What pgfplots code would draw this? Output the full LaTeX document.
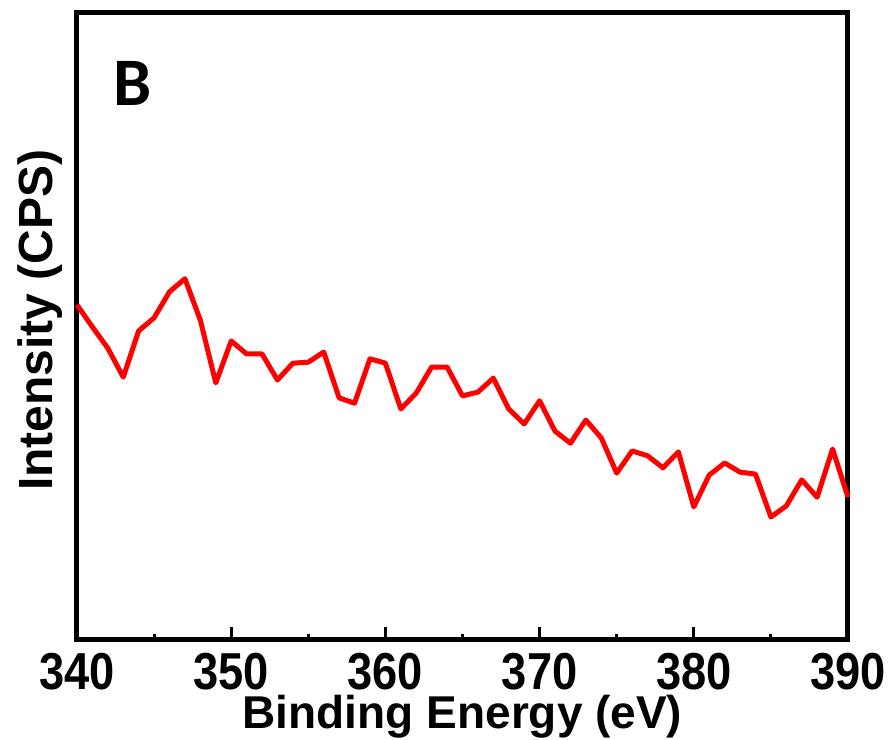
\documentclass[border=0pt]{standalone}
\usepackage{fontspec}
\setmainfont{Liberation Sans}
\newfontfamily\narrowfont{Liberation Sans}[FakeStretch=0.87]
\newfontfamily\panelfont{Carlito}
\usepackage{pgfplots}
\pgfplotsset{compat=1.18}

\begin{document}
\begin{tikzpicture}
\begin{axis}[
    at={(0,0)}, anchor=south west,
    scale only axis,
    width=385.5pt, height=313.5pt,
    xmin=340, xmax=390,
    ymin=0, ymax=13,
    xtick={340,350,...,390},
    minor x tick num=1,
    ytick=\empty,
    minor ytick={0,1,...,13},
    xtick pos=bottom,
    ytick pos=both,
    tick align=inside,
    axis line style={line width=2.5pt},
    every tick/.style={black, line width=1.5pt},
    major tick length=6.5pt,
    minor tick length=3pt,
    /pgf/number format/assume math mode=true,
    /pgf/number format/1000 sep={},
    xticklabel style={font=\narrowfont\bfseries\fontsize{26}{26}\selectfont,
        anchor=base, inner sep=0pt, yshift=-25pt},
    xlabel={Binding Energy (eV)},
    xlabel style={font=\bfseries\fontsize{23}{24}\selectfont,
        at={(axis description cs:0.5,-0.1404)}, anchor=base, inner sep=0pt},
    ylabel={Intensity (CPS)},
    ylabel style={font=\bfseries\fontsize{24}{24}\selectfont,
        at={(axis description cs:-0.0324,0.51)}, anchor=base, inner sep=0pt},
    clip=false,
]
\addplot[color=red, line width=2.5pt, line join=round] coordinates {
    (340,6.95) (341,6.49) (342,6.05) (343,5.45) (344,6.41)
    (345,6.68) (346,7.22) (347,7.49) (348,6.63) (349,5.33)
    (350,6.20) (351,5.93) (352,5.93) (353,5.39) (354,5.74)
    (355,5.76) (356,5.97) (357,5.02) (358,4.91) (359,5.83)
    (360,5.74) (361,4.79) (362,5.12) (363,5.66) (364,5.66)
    (365,5.06) (366,5.14) (367,5.43) (368,4.79) (369,4.48)
    (370,4.96) (371,4.33) (372,4.08) (373,4.56) (374,4.19)
    (375,3.46) (376,3.92) (377,3.82) (378,3.57) (379,3.90)
    (380,2.76) (381,3.42) (382,3.67) (383,3.48) (384,3.44)
    (385,2.55) (386,2.78) (387,3.32) (388,2.96) (389,3.96)
    (390,2.96)
};
\node[anchor=base west, inner sep=0pt,
      font=\panelfont\bfseries\fontsize{34}{34}\selectfont]
      at (rel axis cs:0.047,0.853) {B};
\end{axis}
\pgfresetboundingbox
\path[use as bounding box] (-38.5pt,-50pt) rectangle (407pt,320pt);
\end{tikzpicture}
\end{document}
